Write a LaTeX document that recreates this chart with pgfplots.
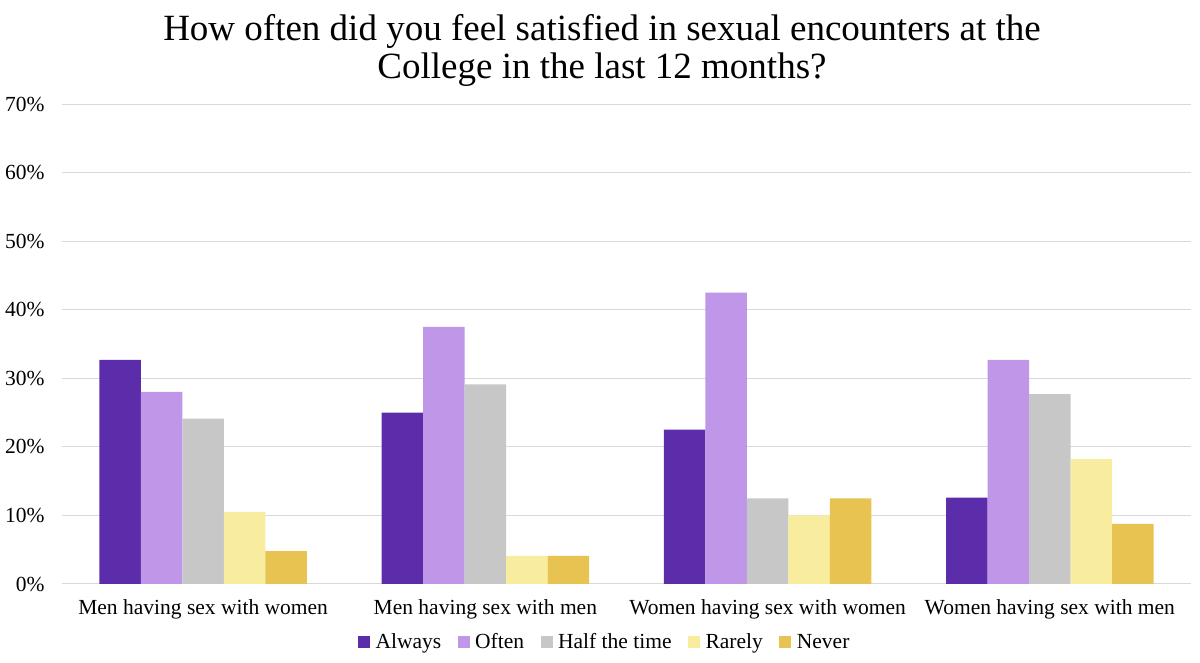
\documentclass[border=0pt]{standalone}
\usepackage{fontspec}
\setmainfont{Liberation Serif}
\usepackage{pgfplots}
\pgfplotsset{compat=1.18}

\definecolor{always}{HTML}{5B2DAA}
\definecolor{often}{HTML}{BF96E8}
\definecolor{halftime}{HTML}{C7C7C7}
\definecolor{rarely}{HTML}{F8EC9F}
\definecolor{never}{HTML}{E8C352}
\definecolor{gridgray}{HTML}{D9D9D9}

\begin{document}
\begin{tikzpicture}
\useasboundingbox (0pt,0pt) rectangle (1200pt,663pt);
\node[align=center, font=\fontsize{37}{38}\selectfont] at (602pt,613pt)
  {How often did you feel satisfied in sexual encounters at the\\College in the last 12 months?};
\begin{axis}[
    at={(62pt,79pt)}, anchor=south west,
    width=1129pt, height=480pt, scale only axis,
    ybar=0pt, bar width=41.5pt,
    xmin=-0.5, xmax=3.5, ymin=0, ymax=70,
    xtick={0,1,2,3},
    xticklabels={Men having sex with women,Men having sex with men,Women having sex with women,Women having sex with men},
    ytick={0,10,...,70},
    yticklabel={\pgfmathprintnumber{\tick}\%},
    /pgf/number format/assume math mode=true,
    ymajorgrids, grid style={draw=gridgray, line width=1pt},
    axis line style={draw=none}, tick style={draw=none},
    ticklabel style={font=\fontsize{21.5}{25}\selectfont},
    yticklabel style={xshift=-14pt},
    xticklabel style={yshift=-8pt},
    legend style={at={(0.4805,-0.121)}, anchor=center, draw=none,
      legend columns=-1, font=\fontsize{21.5}{25}\selectfont,
      /tikz/every odd column/.append style={column sep=4pt},
      /tikz/every even column/.append style={column sep=15pt},
      nodes={inner sep=1.5pt}},
    legend image code/.code={\fill[#1] (0pt,-5.5pt) rectangle (12pt,6.5pt);},
    ]
\addplot[fill=always, draw=none] coordinates {(0,32.7) (1,25.0) (2,22.5) (3,12.6)};
\addplot[fill=often, draw=none] coordinates {(0,28.0) (1,37.5) (2,42.5) (3,32.7)};
\addplot[fill=halftime, draw=none] coordinates {(0,24.1) (1,29.1) (2,12.5) (3,27.7)};
\addplot[fill=rarely, draw=none] coordinates {(0,10.5) (1,4.1) (2,10.0) (3,18.2)};
\addplot[fill=never, draw=none] coordinates {(0,4.8) (1,4.1) (2,12.5) (3,8.75)};
\legend{Always,Often,Half the time,Rarely,Never}
\end{axis}
\end{tikzpicture}
\end{document}
